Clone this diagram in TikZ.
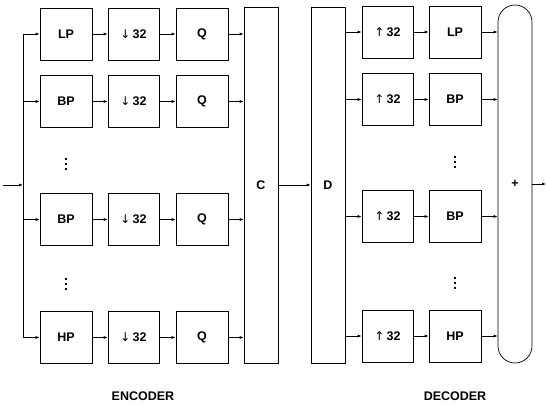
\documentclass[tikz,border=0pt]{standalone}
\usepackage{fontspec}
\setmainfont{Liberation Sans}
\newfontfamily\arrowfont{DejaVu Sans}
\usetikzlibrary{arrows.meta}
\begin{document}
\begin{tikzpicture}[x=1pt,y=-1pt,
  font=\fontsize{12.5}{14}\selectfont\bfseries,
  blk/.style={draw,line width=0.7pt,minimum width=52pt,minimum height=52pt,inner sep=0pt},
  tall/.style={draw,line width=0.7pt,minimum width=34pt,minimum height=356pt,inner sep=0pt},
  conn/.style={line width=0.7pt,-{Latex[length=4pt,width=3pt]}},
  wire/.style={line width=0.7pt},
  title/.style={font=\fontsize{12.5}{14}\selectfont\bfseries}]
\useasboundingbox (0,0) rectangle (546,407);

\newcommand\dnarrow{{\arrowfont\mdseries\fontsize{12}{14}\selectfont↓}\,}
\newcommand\uparr{{\arrowfont\mdseries\fontsize{12}{14}\selectfont↑}\,}
% three dots standing for the bands that are left out
\newcommand\colondots[2]{\foreach \d in {-5,0,5}{\fill (#1-0.8,#2+\d-0.8) rectangle (#1+0.8,#2+\d+0.8);}}

% encoder: analysis filters, decimators, quantisers
\foreach \n/\y/\f in {1/34/LP,2/101.5/BP,3/219.5/BP,4/337.5/HP}{
  \node[blk] (ef\n) at (66,\y) {\f};
  \node[blk,minimum width=51pt] (ed\n) at (133.5,\y) {\dnarrow32};
  \node[blk] (eq\n) at (202,\y) {Q};
}
\node[tall] (C) at (261,185) {C};
\colondots{66}{164}
\colondots{66}{284}

% decoder: interpolators and synthesis filters
\foreach \n/\y/\f in {1/32/LP,2/99.5/BP,3/216.5/BP,4/336/HP}{
  \node[blk,minimum width=51pt] (du\n) at (387.5,\y) {\uparr32};
  \node[blk] (df\n) at (455,\y) {\f};
}
\node[tall] (D) at (328,185) {D};
\colondots{455}{162}
\colondots{455}{283}

% summing node
\node[draw,line width=0.7pt,rounded corners=17pt,minimum width=34pt,minimum height=358pt,inner sep=0pt] (S) at (515,184) {+};

% input and distribution bus
\coordinate (in) at (3,185);
\coordinate (busT) at (23,34);
\coordinate (busB) at (23,337.5);
\coordinate (busM) at (23,185);
\draw[conn] (in) -- (busM);
\draw[wire] (busT) -- (busB);
\foreach \n in {1,2,3,4}{
  \draw[conn] (ef\n.west -| busT) -- (ef\n.west);
  \draw[conn] (ef\n) -- (ed\n);
  \draw[conn] (ed\n) -- (eq\n);
  \draw[conn] (eq\n.east) -- (eq\n.east -| C.west);
  \draw[conn] (du\n.west -| D.east) -- (du\n.west);
  \draw[conn] (du\n) -- (df\n);
  \draw[conn] (df\n.east) -- (df\n.east -| S.west);
}
\draw[conn] (C.east |- 0,185) -- (D.west |- 0,185);
\coordinate (out) at (546,184);
\draw[conn] (S.east |- out) -- (out);

\node[title] (enc) at (143,396) {ENCODER};
\node[title] (dec) at (455,396) {DECODER};
\end{tikzpicture}
\end{document}
